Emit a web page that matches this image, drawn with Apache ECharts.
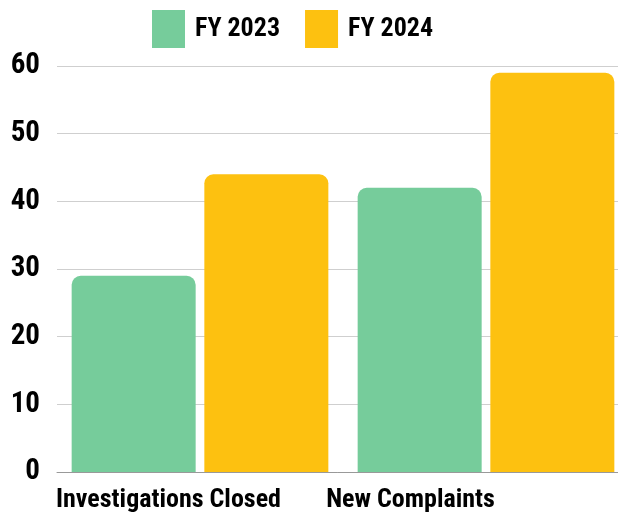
<!DOCTYPE html>
<html>
<head>
<meta charset="utf-8">
<script src="https://cdn.jsdelivr.net/npm/echarts@6/dist/echarts.min.js"></script>
<style>
html,body{margin:0;padding:0;background:#fff;}
#chart{width:618px;height:516px;}
</style>
</head>
<body>
<div id="chart"></div>
<script>
//数据
var categories = ['Investigations Closed', 'New Complaints'];
var fy2023 = [29, 42];
var fy2024 = [44, 59];
var series_names = ['FY 2023', 'FY 2024'];
var y_ticks = [0, 10, 20, 30, 40, 50, 60];

//窄体字体
var font_main = '"Roboto Condensed", Roboto, sans-serif';

//标签偏移（右侧留白使文字左移）
var label_pads = [[0, 63, 0, 0], [0, 151, 0, 0]];

var myChart = echarts.init(document.getElementById('chart'));

var cat_data = categories.map(function (c, i) {
	return {value: c, textStyle: {padding: label_pads[i]}};
});

function txt(size) {
	return {fontFamily: font_main, fontWeight: 'bold', fontSize: size, color: '#000'};
}

var option = {
	animation: false,
	color: ['#76CC9B', '#FDC110'],
	legend: {
		top: 10,
		left: 152,
		padding: 0,
		itemWidth: 33,
		itemHeight: 38,
		itemGap: 25,
		icon: 'rect',
		textStyle: Object.assign(txt(26), {padding: [2, 0, 0, 5]}),
		data: series_names
	},
	grid: {left: 57, width: 572, top: 66, bottom: 44, containLabel: false, outerBoundsMode: 'none'},
	xAxis: {
		type: 'category',
		data: cat_data,
		axisTick: {show: false},
		axisLine: {lineStyle: {color: '#999', width: 1}},
		axisLabel: Object.assign(txt(26), {interval: 0, hideOverlap: false, margin: 15})
	},
	yAxis: {
		type: 'value',
		min: y_ticks[0],
		max: y_ticks[y_ticks.length - 1],
		interval: 10,
		axisLine: {show: false},
		axisTick: {show: false},
		splitLine: {lineStyle: {color: '#cfcfcf', width: 1}},
		axisLabel: Object.assign(txt(29), {margin: 17})
	},
	series: [
		{name: series_names[0], type: 'bar', data: fy2023, barWidth: 124, barGap: '7%', itemStyle: {borderRadius: [9, 9, 0, 0]}},
		{name: series_names[1], type: 'bar', data: fy2024, barWidth: 124, barGap: '7%', itemStyle: {borderRadius: [9, 9, 0, 0]}}
	]
};
myChart.setOption(option);
</script>
</body>
</html>
